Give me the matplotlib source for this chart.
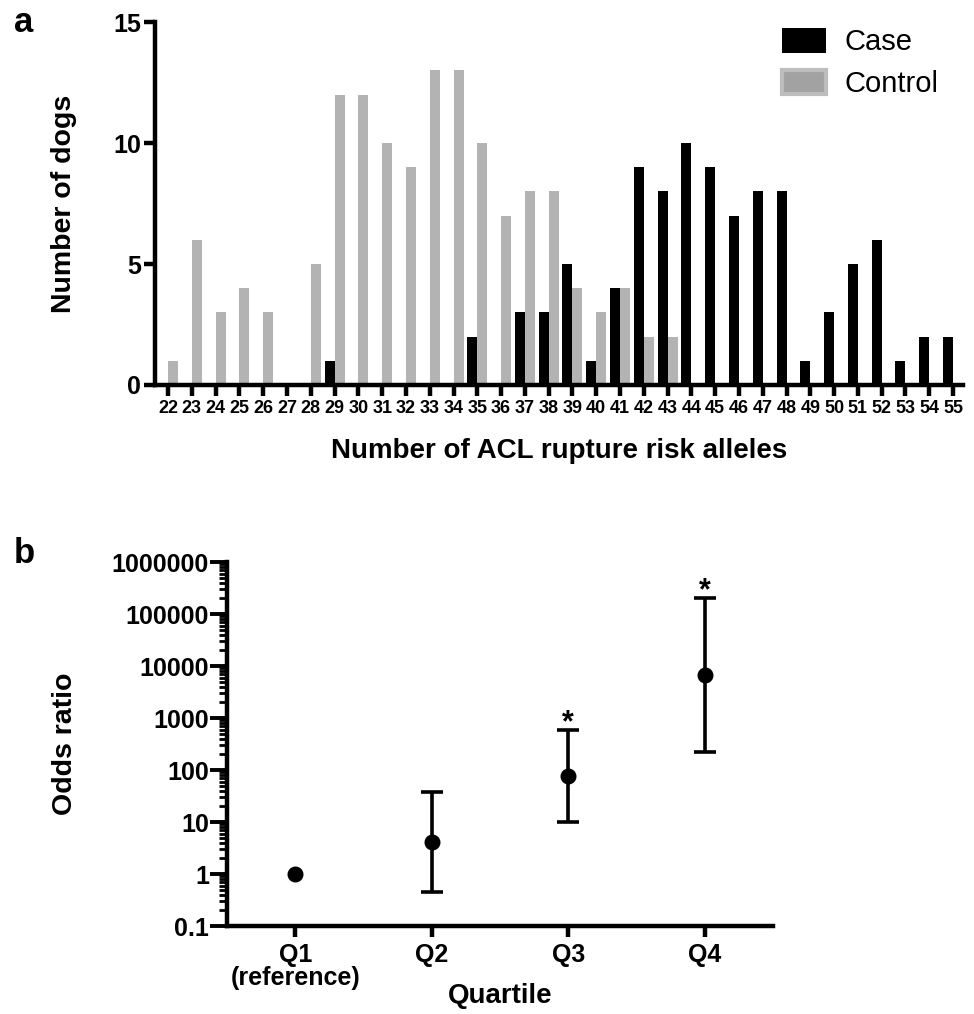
import numpy as np
import matplotlib
matplotlib.use("Agg")
import matplotlib.pyplot as plt
from matplotlib.patches import Patch
from matplotlib.ticker import LogLocator, FixedLocator, NullFormatter

plt.rcParams['font.family'] = ['Liberation Sans', 'DejaVu Sans']

# panel a data
alleles = list(range(22, 56))
case_counts = [0, 0, 0, 0, 0, 0, 0, 1, 0, 0, 0, 0, 0, 2, 0, 3, 3, 5, 1, 4,
               9, 8, 10, 9, 7, 8, 8, 1, 3, 5, 6, 1, 2, 2]
control_counts = [1, 6, 3, 4, 3, 0, 5, 12, 12, 10, 9, 13, 13, 10, 7, 8, 8, 4, 3, 4,
                  2, 2, 0, 0, 0, 0, 0, 0, 0, 0, 0, 0, 0, 0]

# panel b data
quartiles = ['Q1\n(reference)', 'Q2', 'Q3', 'Q4']
odds_ratio = [1.0, 4.2, 77, 6800]
ci_low = [1.0, 0.46, 10, 224]
ci_high = [1.0, 38, 590, 200000]
significant = [False, False, True, True]

W, H = 974, 1014
fig = plt.figure(figsize=(W / 100, H / 100), dpi=100)


def px_axes(left, top, right, bottom):
    return fig.add_axes([left / W, 1 - bottom / H, (right - left) / W, (bottom - top) / H])


spine_w = 3.2

# ---- panel a ----
ax = px_axes(155, 22, 963, 385)
x = np.array(alleles)
bw = 0.42
ax.bar(x - bw / 2, case_counts, width=bw, color='black', zorder=3)
ax.bar(x + bw / 2, control_counts, width=bw, color='#b3b3b3', zorder=2)
ax.set_xlim(21.45, 55.42)
ax.set_ylim(0, 15)
ax.set_xticks(alleles)
ax.set_yticks([0, 5, 10, 15])
for s in ['top', 'right']:
    ax.spines[s].set_visible(False)
for s in ['left', 'bottom']:
    ax.spines[s].set_linewidth(spine_w)
ax.tick_params(axis='x', length=8, width=spine_w, labelsize=13, pad=3)
ax.tick_params(axis='y', length=8, width=spine_w, labelsize=18, pad=2)
for lab in ax.get_xticklabels() + ax.get_yticklabels():
    lab.set_fontweight('bold')
ax.set_xlabel('Number of ACL rupture risk alleles', fontsize=20, fontweight='bold', labelpad=15)
ax.set_ylabel('Number of dogs', fontsize=20.5, fontweight='bold', labelpad=26)

handles = [Patch(facecolor='black', edgecolor='black', linewidth=0),
           Patch(facecolor='#a2a2a2', edgecolor='#bdbdbd', linewidth=3)]
ax.legend(handles, ['Case', 'Control'], loc='upper left',
          bbox_to_anchor=(782 / W, 1 - 28 / H), bbox_transform=fig.transFigure,
          frameon=False, fontsize=21, borderpad=0, borderaxespad=0,
          handlelength=1.5, handleheight=0.93, handletextpad=0.65, labelspacing=0.45)

fig.text(14 / W, 1 - 32 / H, 'a', fontsize=25, fontweight='bold')

# ---- panel b ----
bx = px_axes(227, 562, 773, 926)
pos = np.arange(1, len(quartiles) + 1)
or_arr = np.array(odds_ratio)
lo_arr = np.array(ci_low)
hi_arr = np.array(ci_high)
has_ci = hi_arr > lo_arr
bx.errorbar(pos[has_ci], or_arr[has_ci],
            yerr=[or_arr[has_ci] - lo_arr[has_ci], hi_arr[has_ci] - or_arr[has_ci]],
            fmt='none', ecolor='black', elinewidth=2.6, capsize=8, capthick=2.6, zorder=2)
bx.plot(pos, or_arr, 'o', color='black', markersize=10.5, zorder=3)
bx.set_yscale('log')
bx.set_ylim(0.1, 1e6)
bx.set_xlim(0.5, 4.5)
bx.set_xticks(pos)
bx.set_xticklabels(quartiles)
major = [10.0 ** k for k in range(-1, 7)]
bx.yaxis.set_major_locator(FixedLocator(major))
bx.set_yticklabels(['0.1', '1', '10', '100', '1000', '10000', '100000', '1000000'])
bx.yaxis.set_minor_locator(LogLocator(base=10, subs=np.arange(2, 10), numticks=20))
bx.yaxis.set_minor_formatter(NullFormatter())
for s in ['top', 'right']:
    bx.spines[s].set_visible(False)
for s in ['left', 'bottom']:
    bx.spines[s].set_linewidth(spine_w)
bx.tick_params(axis='y', which='major', length=12, width=2.8, labelsize=18, pad=1)
bx.tick_params(axis='y', which='minor', length=6, width=2.0)
bx.tick_params(axis='x', length=8, width=spine_w, labelsize=18, pad=4)
for lab in bx.get_xticklabels() + bx.get_yticklabels():
    lab.set_fontweight('bold')
for lab in bx.get_xticklabels():
    lab.set_linespacing(0.95)
bx.set_xlabel('Quartile', fontsize=20, fontweight='bold', labelpad=-5)
bx.set_ylabel('Odds ratio', fontsize=20.5, fontweight='bold', labelpad=24)

for p, hi, sig in zip(pos, ci_high, significant):
    if sig:
        bx.annotate('*', (p, hi), xytext=(0, -6), textcoords='offset points',
                    ha='center', va='bottom', fontsize=22, fontweight='bold')

fig.text(14 / W, 1 - 563 / H, 'b', fontsize=25, fontweight='bold')

fig.savefig('out.png', dpi=100)
